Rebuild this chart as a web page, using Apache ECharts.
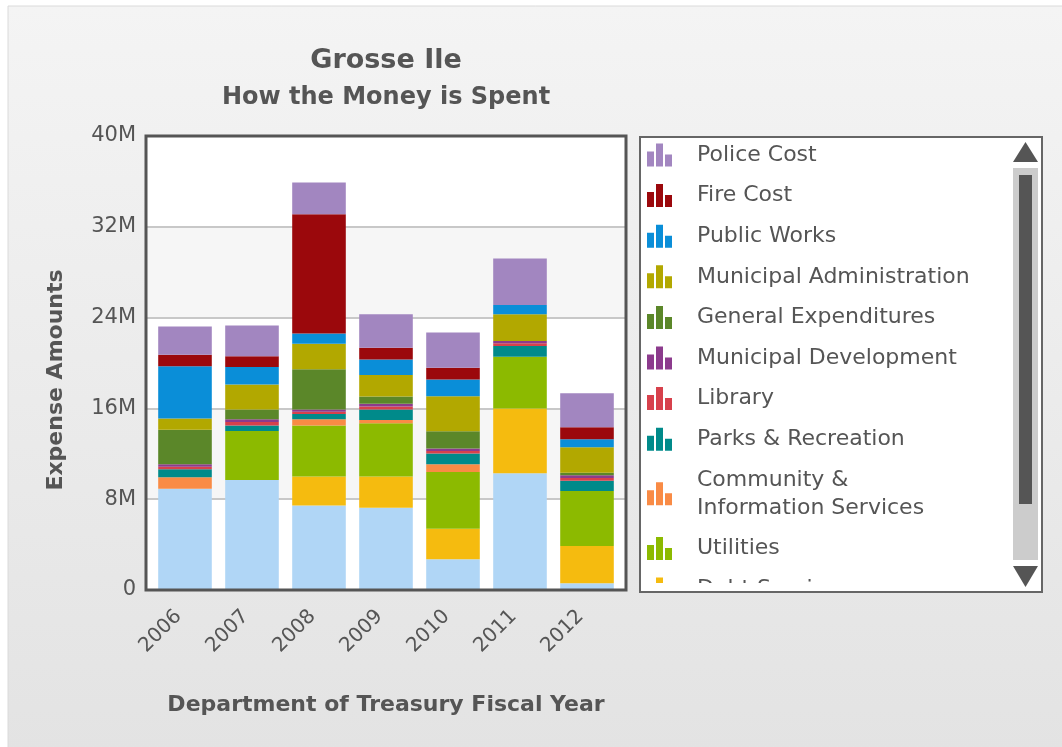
<!DOCTYPE html>
<html lang="en">

<head>
  <meta charset="UTF-8">
  <title>Grosse Ile - How the Money is Spent</title>
  <script src="https://cdn.jsdelivr.net/npm/echarts@6/dist/echarts.min.js"></script>
  <style>
    html, body {
      margin: 0;
      padding: 0;
      background: #fff;
    }
    #echarts {
      width: 1062px;
      height: 747px;
    }
  </style>
</head>

<body>
  <div id="echarts"></div>
</body>

</html>
<script>
  // values in millions of dollars, per fiscal year
  let years = ['2006', '2007', '2008', '2009', '2010', '2011', '2012'];

  let other = [8.93, 9.7, 7.45, 7.25, 2.7, 10.28, 0.59];
  let debtService = [0, 0, 2.55, 2.75, 2.7, 5.72, 3.29];
  let utilities = [0, 4.3, 4.5, 4.7, 5.0, 4.56, 4.84];
  let community = [1.0, 0, 0.55, 0.28, 0.68, 0, 0];
  let parks = [0.7, 0.5, 0.45, 0.92, 0.94, 0.94, 0.91];
  let library = [0.24, 0.3, 0.2, 0.27, 0.23, 0.24, 0.24];
  let munDevelopment = [0.2, 0.25, 0.2, 0.23, 0.21, 0.2, 0.23];
  let generalExp = [3.05, 0.85, 3.55, 0.64, 1.52, 0, 0.24];
  let munAdmin = [1.0, 2.2, 2.25, 1.9, 3.1, 2.36, 2.23];
  let publicWorks = [4.6, 1.55, 0.9, 1.37, 1.46, 0.8, 0.71];
  let fireCost = [1.0, 0.95, 10.5, 1.03, 1.04, 0, 1.05];
  let policeCost = [2.5, 2.7, 2.8, 2.95, 3.1, 4.1, 3.0];

  let yTicks = [0, 8, 16, 24, 32, 40];

  // bottom of the stack first
  let stack = [
    { name: 'Other', data: other, color: '#b0d6f6' },
    { name: 'Debt Service', data: debtService, color: '#f5bb0f' },
    { name: 'Utilities', data: utilities, color: '#8cba00' },
    { name: 'Community & Information Services', data: community, color: '#f98b45' },
    { name: 'Parks & Recreation', data: parks, color: '#008a8a' },
    { name: 'Library', data: library, color: '#d7414c' },
    { name: 'Municipal Development', data: munDevelopment, color: '#8c3b8d' },
    { name: 'General Expenditures', data: generalExp, color: '#5b8729' },
    { name: 'Municipal Administration', data: munAdmin, color: '#b2a800' },
    { name: 'Public Works', data: publicWorks, color: '#0a8ed8' },
    { name: 'Fire Cost', data: fireCost, color: '#9b080c' },
    { name: 'Police Cost', data: policeCost, color: '#a286c0' }
  ];

  let barIcon = 'path://M0,8h7v15h-7z M9,0h7v23h-7z M18,11h7v12h-7z';
  let font = 'DejaVu Sans';
  let textColor = '#555';

  let yMin = yTicks[0];
  let yMax = yTicks[yTicks.length - 1];
  let yStep = yTicks[1] - yTicks[0];

  let myChart = echarts.init(document.getElementById('echarts'));

  myChart.setOption({
    backgroundColor: '#fff',
    textStyle: { fontFamily: font },
    title: [{
      text: 'Grosse Ile',
      left: 381,
      textAlign: 'center',
      top: 42,
      textStyle: { fontFamily: font, fontSize: 27, fontWeight: 'bold', color: textColor }
    }, {
      text: 'How the Money is Spent',
      left: 381,
      textAlign: 'center',
      top: 81,
      textStyle: { fontFamily: font, fontSize: 24, fontWeight: 'bold', color: textColor }
    }],
    graphic: [
      // panel background
      {
        type: 'rect', z: -100, silent: true,
        shape: { x: 8, y: 6, width: 1060, height: 745 },
        style: {
          fill: new echarts.graphic.LinearGradient(0, 0, 0, 1, [
            { offset: 0, color: '#f4f4f4' },
            { offset: 1, color: '#e3e3e3' }
          ]),
          stroke: '#dadada', lineWidth: 1
        }
      },
      // legend box
      {
        type: 'rect', z: -50, silent: true,
        shape: { x: 640, y: 137, width: 402, height: 455 },
        style: { fill: '#fff', stroke: '#666', lineWidth: 2 }
      },
      // scroll bar
      {
        type: 'rect', z: -40, silent: true,
        shape: { x: 1013, y: 168, width: 25, height: 392 },
        style: { fill: '#cccccc' }
      },
      {
        type: 'rect', z: -30, silent: true,
        shape: { x: 1019, y: 175, width: 13, height: 329 },
        style: { fill: '#555' }
      },
      {
        type: 'polygon', z: -30, silent: true,
        shape: { points: [[1025.5, 142], [1013, 162], [1038, 162]] },
        style: { fill: '#555' }
      },
      {
        type: 'polygon', z: -30, silent: true,
        shape: { points: [[1013, 566], [1038, 566], [1025.5, 587]] },
        style: { fill: '#555' }
      }
    ],
    legend: {
      type: 'scroll',
      orient: 'vertical',
      left: 647,
      top: 141,
      width: 360,
      height: 443,
      padding: 0,
      itemGap: 12.6,
      itemWidth: 25,
      itemHeight: 23,
      icon: barIcon,
      data: stack.map(s => s.name).reverse(),
      formatter: function (name) {
        return name === 'Community & Information Services' ? 'Community &\nInformation Services' : name;
      },
      textStyle: {
        fontFamily: font,
        fontSize: 22,
        color: textColor,
        lineHeight: 28,
        padding: [0, 0, 0, 20]
      },
      pageButtonGap: 0,
      pageButtonItemGap: 0,
      pageIconSize: 1,
      pageIconColor: 'transparent',
      pageIconInactiveColor: 'transparent',
      pageFormatter: ' ',
      pageTextStyle: { color: 'transparent', fontSize: 1 }
    },
    // grid 0: frame, bands and value labels; grid 1: the bars, inset a little
    grid: [{
      show: true,
      z: 5,
      left: 146,
      top: 136,
      width: 480,
      height: 454,
      backgroundColor: 'transparent',
      borderColor: '#555',
      borderWidth: 3
    }, {
      left: 151.5,
      top: 136,
      width: 469,
      height: 454
    }],
    xAxis: [{
      gridIndex: 0,
      type: 'category',
      data: years,
      show: false
    }, {
      gridIndex: 1,
      type: 'category',
      data: years,
      name: 'Department of Treasury Fiscal Year',
      nameLocation: 'middle',
      nameGap: 104,
      nameTextStyle: { fontFamily: font, fontSize: 22, fontWeight: 'bold', color: textColor },
      axisLine: { show: false },
      axisTick: { show: false },
      axisLabel: {
        rotate: 45, margin: 17, padding: [0, 9, 0, 0],
        fontFamily: font, fontSize: 20, color: textColor
      }
    }],
    yAxis: [{
      gridIndex: 0,
      type: 'value',
      min: yMin,
      max: yMax,
      interval: yStep,
      name: 'Expense Amounts',
      nameLocation: 'middle',
      nameGap: 79,
      nameTextStyle: {
        fontFamily: font, fontSize: 22, fontWeight: 'bold', color: textColor,
        padding: [0, 34, 0, 0]
      },
      axisLine: { show: false },
      axisTick: { show: false },
      axisLabel: {
        margin: 10, fontFamily: font, fontSize: 21, color: textColor,
        formatter: v => v === 0 ? '0' : v + 'M'
      },
      splitLine: { lineStyle: { color: '#c8c8c8', width: 2 } },
      splitArea: { show: true, areaStyle: { color: ['#ffffff', '#f6f6f6'] } }
    }, {
      gridIndex: 1,
      type: 'value',
      min: yMin,
      max: yMax,
      interval: yStep,
      show: false,
      splitLine: { show: false }
    }],
    series: stack.map(s => ({
      name: s.name,
      type: 'bar',
      stack: 'total',
      xAxisIndex: 1,
      yAxisIndex: 1,
      barCategoryGap: '20%',
      data: s.data,
      itemStyle: { color: s.color }
    }))
  });
</script>
